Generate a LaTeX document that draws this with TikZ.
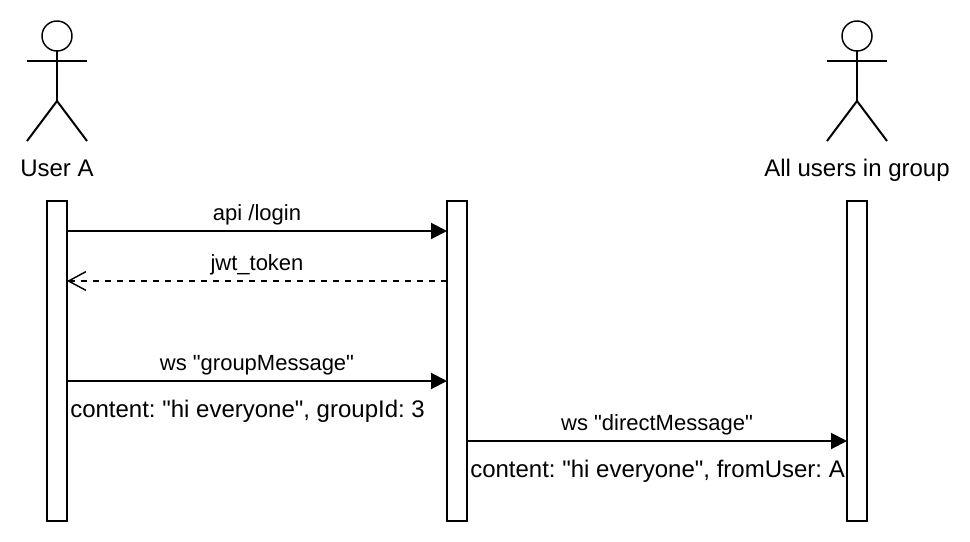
\documentclass[tikz,border=0pt]{standalone}
\usepackage{fontspec}
\setmainfont[Ligatures=TeXOff]{Liberation Sans}
\usetikzlibrary{arrows.meta}
\frenchspacing
\tikzset{
	bar/.style={draw,fill=white,line width=1.5pt,minimum width=15pt,minimum height=240pt,inner sep=0pt,outer sep=0pt},
	actorlabel/.style={inner sep=0pt,font=\fontsize{18}{20}\selectfont},
	msglabel/.style={inner sep=0pt,anchor=base,yshift=8.25pt,font=\fontsize{16.5}{18}\selectfont},
	msg/.style={line width=1.5pt,-{Triangle[length=12pt,width=12pt]}},
	reply/.style={line width=1.5pt,dash pattern=on 4.5pt off 4.5pt,-{Straight Barb[length=13pt,width=14pt,line width=1.1pt]}}
}
\begin{document}
\begin{tikzpicture}[x=0.75pt,y=-0.75pt]
\useasboundingbox (0,0) rectangle (970,542);

\foreach \s/\x/\t in {A/57/User A,C/857/All users in group}
{
	\node[circle,draw,line width=1.1pt,minimum size=22.5pt,inner sep=0pt,outer sep=0pt] (head\s) at (\x,36) {};
	\draw[line width=1.5pt] (head\s.south) -- (\x,101);
	\draw[line width=1.5pt] (\x-30,61) -- (\x+30,61);
	\draw[line width=1.5pt] (\x-30,141) -- (\x,101) -- (\x+30,141);
	\node[actorlabel,anchor=base] (label\s) at (\x,176) {\t};
};

\foreach \s/\x in {A/57,B/457,C/857}
{
	\node[bar] (bar\s) at (\x,361) {};
};

\draw[msg] ([yshift=-22.5pt]barA.north east) -- node[msglabel] (login) {api /login} ([yshift=-22.5pt]barB.north west);
\draw[reply] ([yshift=-60pt]barB.north west) -- node[msglabel] (token) {jwt\_token} ([yshift=-60pt]barA.north east);
\draw[msg] ([yshift=-135pt]barA.north east) -- node[msglabel] (group) {ws "groupMessage"} ([yshift=-135pt]barB.north west);
\draw[msg] ([yshift=-180pt]barB.north east) -- node[msglabel] (direct) {ws "directMessage"} ([yshift=-180pt]barC.north west);

\node[actorlabel,anchor=base west] (groupbody) at (70,417.5) {content: "hi everyone", groupId: 3};
\node[actorlabel,anchor=base west] (directbody) at (470,477.5) {content: "hi everyone", fromUser: A};
\end{tikzpicture}
\end{document}
